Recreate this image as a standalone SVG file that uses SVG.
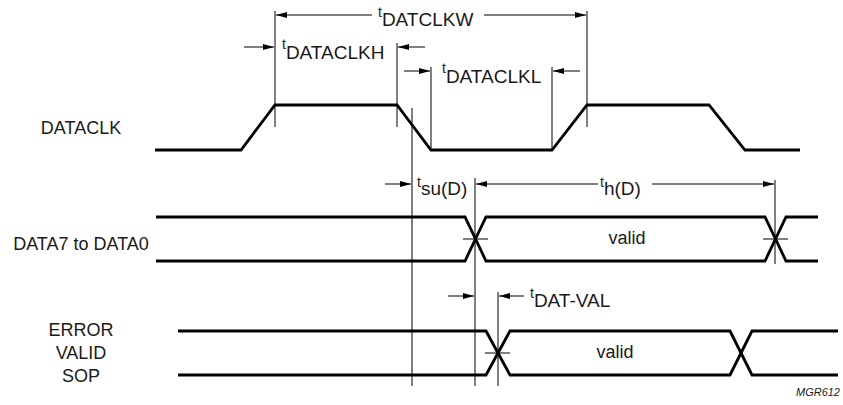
<svg xmlns="http://www.w3.org/2000/svg" width="843" height="405" viewBox="0 0 843 405">
<defs>
<style>
.wave{fill:none;stroke:#000;stroke-width:2.8;stroke-linejoin:miter}
.dim{fill:none;stroke:#000;stroke-width:1}
.arr{fill:none;stroke:#000;stroke-width:1;marker-end:url(#ah)}
text{font-family:"Liberation Sans",Arial,sans-serif;fill:#1a1a1a}
.lbl{font-size:18px}
.t{font-size:14px}
.sub{font-size:19px}
.tag{font-size:11px;font-style:italic}
</style>
<marker id="ah" markerWidth="11" markerHeight="6" refX="11" refY="3" orient="auto" markerUnits="userSpaceOnUse">
<path d="M0,0 L11,3 L0,6 z" fill="#000"/>
</marker>
</defs>
<rect width="843" height="405" fill="#fff"/>

<g id="label-dataclk"><text class="lbl" x="81" y="134" text-anchor="middle">DATACLK</text></g>
<g id="label-data"><text class="lbl" x="81" y="250" text-anchor="middle">DATA7 to DATA0</text></g>
<g id="label-error">
<text class="lbl" x="81" y="336" text-anchor="middle">ERROR</text>
<text class="lbl" x="81" y="359" text-anchor="middle">VALID</text>
<text class="lbl" x="81" y="382" text-anchor="middle">SOP</text>
</g>

<g id="wave-dataclk">
<path class="wave" d="M155,150 H241 L275,105 H397 L431,150 H552 L587,105 H709 L745,150 H800"/>
</g>
<g id="wave-data">
<path class="wave" d="M156,217 H465 L486,261 H765 L786,217 H818"/>
<path class="wave" d="M156,261 H465 L486,217 H765 L786,261 H818"/>
<text class="lbl" x="627" y="244" text-anchor="middle">valid</text>
</g>
<g id="wave-error">
<path class="wave" d="M178,331 H486 L510,375 H730 L752,331 H838"/>
<path class="wave" d="M178,375 H486 L510,331 H730 L752,375 H838"/>
<text class="lbl" x="615" y="358" text-anchor="middle">valid</text>
</g>

<g id="connectors">
<path class="dim" d="M275,11 V127 M397,43 V127 M412,108 V386 M431,67 V150 M552,67 V150 M587,11 V127 M475,178 V386 M775,180 V264 M498,292 V386"/>
<path class="dim" d="M463,239 H488 M763,239 H788 M485,353 H510"/>
<path class="arr" d="M372,15 H276"/>
<path class="arr" d="M484,15 H586"/>
<path class="arr" d="M244,47 H274"/>
<path class="arr" d="M425,47 H398"/>
<path class="arr" d="M404,71 H430"/>
<path class="arr" d="M580,71 H553"/>
<path class="arr" d="M385,184 H411"/>
<path class="arr" d="M598,184 H476"/>
<path class="arr" d="M652,184 H774"/>
<path class="arr" d="M448,296 H474"/>
<path class="arr" d="M524,296 H499"/>
</g>

<g id="dim-labels">
<text x="378" y="26"><tspan class="t" dy="-9">t</tspan><tspan class="sub" dy="9">DATCLKW</tspan></text>
<text x="282" y="59"><tspan class="t" dy="-10">t</tspan><tspan class="sub" dy="10">DATACLKH</tspan></text>
<text x="442" y="83"><tspan class="t" dy="-10">t</tspan><tspan class="sub" dy="10">DATACLKL</tspan></text>
<text x="417" y="195"><tspan class="t" dy="-8">t</tspan><tspan class="sub" dy="8">su(D)</tspan></text>
<text x="600" y="195"><tspan class="t" dy="-8">t</tspan><tspan class="sub" dy="8">h(D)</tspan></text>
<text x="530" y="307"><tspan class="t" dy="-9">t</tspan><tspan class="sub" dy="9">DAT-VAL</tspan></text>
<text class="tag" x="840" y="396" text-anchor="end">MGR612</text>
</g>
</svg>
